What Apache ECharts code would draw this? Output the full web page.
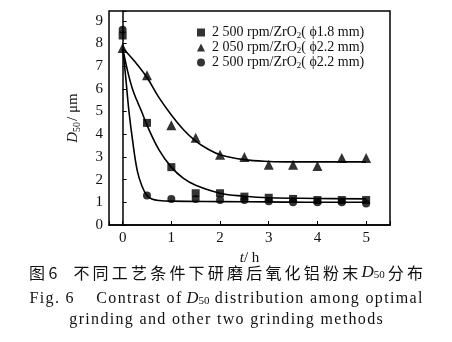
<!DOCTYPE html>
<html><head><meta charset="utf-8">
<script src="https://cdn.jsdelivr.net/npm/echarts@6/dist/echarts.min.js"></script>
<style>html,body{margin:0;padding:0;background:#fff}#c{width:452px;height:342px}</style>
</head><body><div id="c"></div>
<script>
// measured points (t in h, D50 in μm)
var times = [0, 0.5, 1, 1.5, 2, 2.5, 3, 3.5, 4, 4.5, 5];
var sq18 = [8.35, 4.5, 2.55, 1.4, 1.4, 1.25, 1.2, 1.15, 1.1, 1.1, 1.1];
var tri22 = [7.8, 6.6, 4.4, 3.85, 3.1, 3.0, 2.65, 2.65, 2.6, 2.95, 2.95];
var cir22 = [8.6, 1.3, 1.15, 1.15, 1.1, 1.1, 1.05, 1.0, 1.0, 1.0, 0.95];
// fitted curves
var fitSqT = [0, 0.1, 0.2, 0.3, 0.39, 0.5, 0.75, 1, 1.25, 1.5, 2, 2.5, 3, 4, 5];
var fitSqY = [7.8, 6.8, 6.0, 5.45, 5.0, 4.4, 3.3, 2.55, 2.05, 1.75, 1.4, 1.27, 1.2, 1.17, 1.15];
var fitTrT = [0, 0.25, 0.5, 0.75, 1, 1.25, 1.5, 1.75, 2, 2.5, 3, 3.5, 4, 5];
var fitTrY = [7.8, 7.2, 6.5, 5.6, 4.85, 4.2, 3.7, 3.35, 3.1, 2.88, 2.8, 2.78, 2.78, 2.78];
var fitCiT = [0, 0.05, 0.13, 0.2, 0.3, 0.4, 0.5, 0.6, 0.75, 1, 2, 3, 4, 5];
var fitCiY = [7.8, 6.8, 5.0, 3.8, 2.4, 1.7, 1.3, 1.15, 1.08, 1.05, 1.03, 1.02, 1.0, 1.0];
var legendLabels = {
  a: '2 500 rpm/ZrO{s|2}( \u03d51.8 mm)',
  b: '2 050 rpm/ZrO{s|2}( \u03d52.2 mm)',
  c: '2 500 rpm/ZrO{s|2}( \u03d52.2 mm)'
};
var xTicks = [0, 1, 2, 3, 4, 5];
var yTicks = [0, 1, 2, 3, 4, 5, 6, 7, 8, 9];
var captionCn = ['图 6\u3000', '不同工艺条件下研磨后氧化铝粉末', '分布'];
var captionEn1 = ['Fig. 6    Contrast of ', ' distribution among optimal'];
var captionEn2 = 'grinding and other two grinding methods';

function pairs(xs, ys) { return xs.map(function (x, i) { return [x, ys[i]]; }); }
function spaced(s, sp) { return s.split('').join(sp); }
var serif = 'Liberation Serif';
var chart = echarts.init(document.getElementById('c'));
function lineS(xs, ys) {
  return { type: 'line', data: pairs(xs, ys), smooth: 0.4, showSymbol: false, silent: true,
    lineStyle: { color: '#000', width: 1.6 }, z: 2 };
}
function scat(name, ys, sym, size) {
  return { name: name, type: 'scatter', data: pairs(times, ys), symbol: sym, symbolSize: size,
    itemStyle: { color: '#000' }, z: 3 };
}
var HS = '\u200a', TS = '\u2009';
chart.setOption({
  animation: false,
  grid: { left: 109, right: 62, top: 11, bottom: 117, show: true, borderColor: '#000', borderWidth: 1.5 },
  xAxis: {
    type: 'value', min: -0.28, max: 5.49, splitNumber: 6,
    axisLine: { show: true, lineStyle: { color: '#000', width: 1.5 } },
    axisTick: { inside: true, length: 4, lineStyle: { color: '#000' } },
    splitLine: { show: false },
    axisLabel: { color: '#111', fontFamily: serif, fontSize: 15, margin: 6,
      formatter: function (v) { return xTicks.indexOf(Math.round(v * 100) / 100) >= 0 ? String(v) : ''; } },
    name: '{i|t}/ h', nameLocation: 'middle', nameGap: 16,
    nameTextStyle: { color: '#111', fontFamily: serif, fontSize: 15,
      rich: { i: { fontStyle: 'italic', fontFamily: serif, fontSize: 15, color: '#111' } } }
  },
  yAxis: {
    type: 'value', min: 0, max: 9.43, interval: 1,
    axisLine: { show: true, lineStyle: { color: '#000', width: 1.5 } },
    axisTick: { inside: true, length: 4, lineStyle: { color: '#000' } },
    splitLine: { show: false },
    axisLabel: { color: '#111', fontFamily: serif, fontSize: 15, margin: 6,
      formatter: function (v) { return yTicks.indexOf(Math.round(v * 100) / 100) >= 0 ? String(v) : ''; } },
    name: '{i|D}{s|50}/ \u03bcm', nameLocation: 'middle', nameGap: 27,
    nameTextStyle: { color: '#111', fontFamily: serif, fontSize: 15,
      rich: { i: { fontStyle: 'italic', fontFamily: serif, fontSize: 15, color: '#111' },
              s: { fontFamily: serif, fontSize: 10, color: '#111', padding: [7, 1, 0, 0] } } }
  },
  legend: {
    data: [
      { name: 'a', icon: 'rect' },
      { name: 'b', icon: 'triangle' },
      { name: 'c', icon: 'circle' }
    ],
    orient: 'vertical', left: 192, top: 20, itemWidth: 8, itemHeight: 8, itemGap: 0,
    formatter: function (n) { return legendLabels[n]; },
    textStyle: { color: '#111', fontFamily: serif, fontSize: 14, lineHeight: 15, padding: [0, 0, 0, 2],
      rich: { s: { fontFamily: serif, fontSize: 9, color: '#111', padding: [6, 0, 0, 0] } } }
  },
  series: [
    lineS(fitSqT, fitSqY), lineS(fitTrT, fitTrY), lineS(fitCiT, fitCiY),
    scat('a', sq18, 'rect', 8),
    scat('b', tri22, 'triangle', 10),
    scat('c', cir22, 'circle', 8)
  ],
  graphic: [
    { type: 'text', left: 'center', top: 264, style: {
      text: captionCn[0] + spaced(captionCn[1], TS) + TS + '{i|D}{s|50}' + TS + spaced(captionCn[2], TS),
      font: '16px "Noto Sans CJK SC"', fill: '#111',
      rich: { i: { fontStyle: 'italic', fontFamily: serif, fontSize: 17, fill: '#111' },
              s: { fontFamily: serif, fontSize: 11, fill: '#111', padding: [6, 0, 0, 0] } } } },
    { type: 'text', left: 'center', top: 290, style: {
      text: spaced(captionEn1[0], HS) + '{i|D}{s|50}' + spaced(captionEn1[1], HS),
      font: '16px "Liberation Serif"', fill: '#111',
      rich: { i: { fontStyle: 'italic', fontFamily: serif, fontSize: 16.5, fill: '#111' },
              s: { fontFamily: serif, fontSize: 11, fill: '#111', padding: [6, 0, 0, 0] } } } },
    { type: 'text', left: 'center', top: 312, style: {
      text: spaced(captionEn2, HS),
      font: '16px "Liberation Serif"', fill: '#111' } }
  ]
});
</script></body></html>
